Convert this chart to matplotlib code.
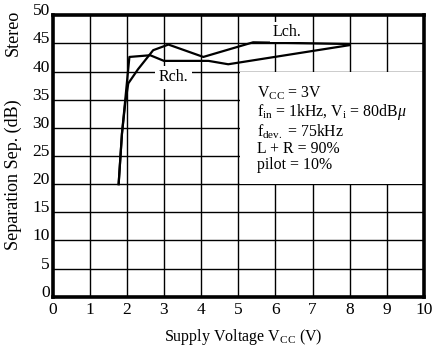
import matplotlib
matplotlib.use("Agg")
import matplotlib.pyplot as plt
import matplotlib.transforms as mtransforms
from matplotlib.patches import Rectangle

plt.rcParams["font.family"] = ["Liberation Serif", "DejaVu Serif"]
plt.rcParams["mathtext.fontset"] = "custom"
plt.rcParams["mathtext.rm"] = "Liberation Serif"
plt.rcParams["mathtext.it"] = "Liberation Serif:italic"

# Stereo separation vs. supply voltage
volt_lch = [1.78, 1.87, 1.96, 2.04, 2.30, 2.71, 3.12, 4.06, 5.40, 8.00]
sep_lch = [20.0, 29.0, 34.5, 37.9, 40.4, 43.8, 44.8, 42.6, 45.2, 44.9]

volt_rch = [1.78, 1.87, 2.07, 2.63, 3.00, 4.20, 4.73, 8.00]
sep_rch = [20.0, 29.0, 42.6, 42.9, 41.9, 41.9, 41.3, 44.7]

x_ticks = [0, 1, 2, 3, 4, 5, 6, 7, 8, 9, 10]
y_ticks = [0, 5, 10, 15, 20, 25, 30, 35, 40, 45, 50]

conditions = [
    r"$\mathrm{V_{CC}}$ = 3V",
    r"$\mathrm{f_{in}}$ = 1kHz, $\mathrm{V_{i}}$ = 80dB$\mathit{\mu}$",
    r"$\mathrm{f_{dev.}}$ = 75kHz",
    "L + R = 90%",
    "pilot = 10%",
]

fig = plt.figure(figsize=(4.35, 3.5), dpi=100)
ax = fig.add_axes([0.1207, 0.1523, 0.8540, 0.8040])

ax.set_xlim(0, 10)
ax.set_ylim(0, 50)

# grid
for xv in x_ticks[1:-1]:
    ax.axvline(xv, color="black", lw=1.0, zorder=1)
for yv in y_ticks[1:-1]:
    ax.axhline(yv, color="black", lw=1.0, zorder=1)

# blank panel behind the measurement conditions
ax.add_patch(Rectangle((5.04, 20.1), 4.96, 19.8, facecolor="white",
                       edgecolor="none", zorder=2))

ax.plot(volt_lch, sep_lch, color="black", lw=1.6, zorder=3)
ax.plot(volt_rch, sep_rch, color="black", lw=1.6, zorder=3)

ax.text(6.30, 47.1, "Lch.", fontsize=11.5, ha="center", va="center", zorder=4,
        bbox=dict(facecolor="white", edgecolor="none", pad=1.5))
ax.text(3.25, 39.0, "Rch.", fontsize=11.5, ha="center", va="center", zorder=4,
        bbox=dict(facecolor="white", edgecolor="none", pad=2.5))

ax.text(5.50, 37.6, "\n".join(conditions), fontsize=11.4, ha="left",
        va="top", linespacing=1.0, zorder=4)

ax.set_xticks(x_ticks)
ax.set_yticks(y_ticks)
ax.tick_params(length=0, labelsize=12.5)
ax.tick_params(axis="x", pad=4)
ax.tick_params(axis="y", pad=2)

shift = mtransforms.ScaledTranslation(0, 6 / 100, fig.dpi_scale_trans)
for lab in ax.get_yticklabels():
    lab.set_transform(lab.get_transform() + shift)

for sp in ax.spines.values():
    sp.set_linewidth(2.6)
    sp.set_zorder(5)

fig.text(0.56, 0.037, r"Supply Voltage $\mathrm{V_{CC}}$ (V)", fontsize=11.5,
         ha="center", va="center")
fig.text(0.03, 0.50, "Separation Sep. (dB)", fontsize=13, rotation=90,
         ha="center", va="center")
fig.text(0.03, 0.906, "Stereo", fontsize=13, rotation=90,
         ha="center", va="center")

fig.savefig("out.png", dpi=100, facecolor="white")
